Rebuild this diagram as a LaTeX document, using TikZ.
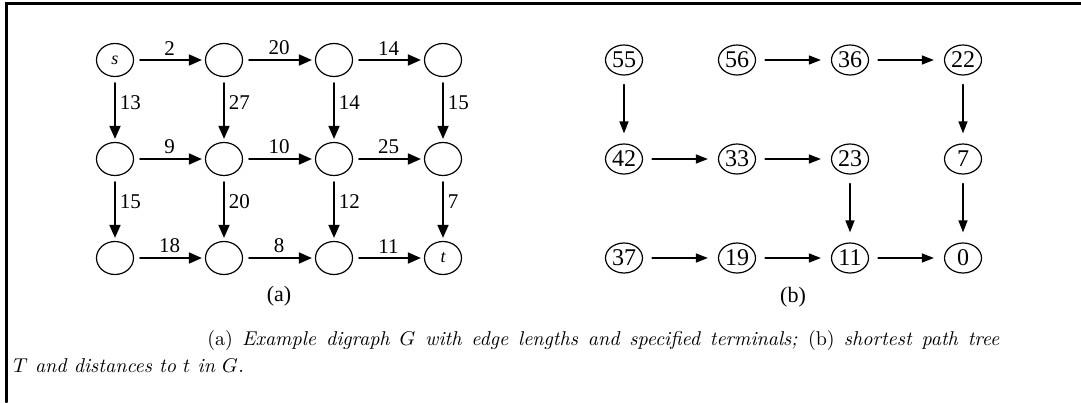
\documentclass[tikz,border=0pt]{standalone}
\usepackage{fontspec}
\newfontfamily\figfont{Liberation Serif}
\usetikzlibrary{arrows.meta,shapes.geometric}

\begin{document}
\begin{tikzpicture}[x=0.5pt,y=-0.5pt,line cap=round,
  vtx/.style={draw,ellipse,line width=0.6pt,inner sep=0pt,minimum width=18.5pt,minimum height=16.5pt,font=\figfont\fontsize{9}{10}\selectfont},
  dist/.style={draw,ellipse,line width=0.6pt,inner sep=0pt,minimum width=18.5pt,minimum height=15pt,font=\figfont\fontsize{12}{12}\selectfont},
  arr/.style={-{Triangle[length=6.5pt,width=5.5pt]},line width=0.9pt,shorten <=3pt,shorten >=1.5pt},
  tarr/.style={-{Triangle[length=6pt,width=4.5pt]},line width=0.7pt,shorten <=4.5pt,shorten >=5pt},
  wt/.style={font=\figfont\fontsize{10.5}{10.5}\selectfont,inner sep=2pt}]
  \useasboundingbox (0,0) rectangle (1081,402);
  \draw[line width=1.5pt] (6,402) -- (6,3.5) -- (1081,3.5);

  % (a) digraph G with edge lengths
  \node[vtx] (s)   at (115,60)  {\itshape s};
  \node[vtx] (a12) at (224,60)  {};
  \node[vtx] (a13) at (334,60)  {};
  \node[vtx] (a14) at (443,60)  {};
  \node[vtx] (a21) at (115,159) {};
  \node[vtx] (a22) at (224,159) {};
  \node[vtx] (a23) at (334,159) {};
  \node[vtx] (a24) at (443,159) {};
  \node[vtx] (a31) at (115,258) {};
  \node[vtx] (a32) at (224,258) {};
  \node[vtx] (a33) at (334,258) {};
  \node[vtx] (t)   at (443,258) {\itshape t};
  \draw[arr] (s) -- node[wt,above] {2} (a12);
  \draw[arr] (a12) -- node[wt,above] {20} (a13);
  \draw[arr] (a13) -- node[wt,above] {14} (a14);
  \draw[arr] (a21) -- node[wt,above] {9} (a22);
  \draw[arr] (a22) -- node[wt,above] {10} (a23);
  \draw[arr] (a23) -- node[wt,above] {25} (a24);
  \draw[arr] (a31) -- node[wt,above] {18} (a32);
  \draw[arr] (a32) -- node[wt,above] {8} (a33);
  \draw[arr] (a33) -- node[wt,above] {11} (t);
  \draw[arr] (s) -- node[wt,right,pos=0.4] {13} (a21);
  \draw[arr] (a12) -- node[wt,right,pos=0.4] {27} (a22);
  \draw[arr] (a13) -- node[wt,right,pos=0.4] {14} (a23);
  \draw[arr] (a14) -- node[wt,right,pos=0.4] {15} (a24);
  \draw[arr] (a21) -- node[wt,right,pos=0.4] {15} (a31);
  \draw[arr] (a22) -- node[wt,right,pos=0.4] {20} (a32);
  \draw[arr] (a23) -- node[wt,right,pos=0.4] {12} (a33);
  \draw[arr] (a24) -- node[wt,right,pos=0.4] {7} (t);
  \node[font=\figfont\fontsize{11}{11}\selectfont] (capa) at (279,296) {(a)};

  % (b) shortest path tree T, distances to t
  \node[dist] (d55) at (624,60)  {55};
  \node[dist] (d56) at (737,60)  {56};
  \node[dist] (d36) at (850,60)  {36};
  \node[dist] (d22) at (963,60)  {22};
  \node[dist] (d42) at (624,159) {42};
  \node[dist] (d33) at (737,159) {33};
  \node[dist] (d23) at (850,159) {23};
  \node[dist] (d7)  at (963,159) {7};
  \node[dist] (d37) at (624,258) {37};
  \node[dist] (d19) at (737,258) {19};
  \node[dist] (d11) at (850,258) {11};
  \node[dist] (d0)  at (963,258) {0};
  \draw[tarr] (d55) -- (d42);
  \draw[tarr] (d56) -- (d36);
  \draw[tarr] (d36) -- (d22);
  \draw[tarr] (d22) -- (d7);
  \draw[tarr] (d42) -- (d33);
  \draw[tarr] (d33) -- (d23);
  \draw[tarr] (d23) -- (d11);
  \draw[tarr] (d7) -- (d0);
  \draw[tarr] (d37) -- (d19);
  \draw[tarr] (d19) -- (d11);
  \draw[tarr] (d11) -- (d0);
  \node[font=\figfont\fontsize{11}{11}\selectfont] (capb) at (793,297) {(b)};

  % caption
  \node[anchor=base west,inner sep=0pt,font=\fontsize{10}{12}\selectfont] (cap1) at (207,345)
    {\makebox[396pt][s]{(a) \textit{Example digraph $G$ with edge lengths and specified terminals;} (b) \textit{shortest path tree}}};
  \node[anchor=base west,inner sep=0pt,font=\fontsize{10}{12}\selectfont] (cap2) at (13,372)
    {\textit{$T$ and distances to $t$ in $G$.}};
\end{tikzpicture}
\end{document}
